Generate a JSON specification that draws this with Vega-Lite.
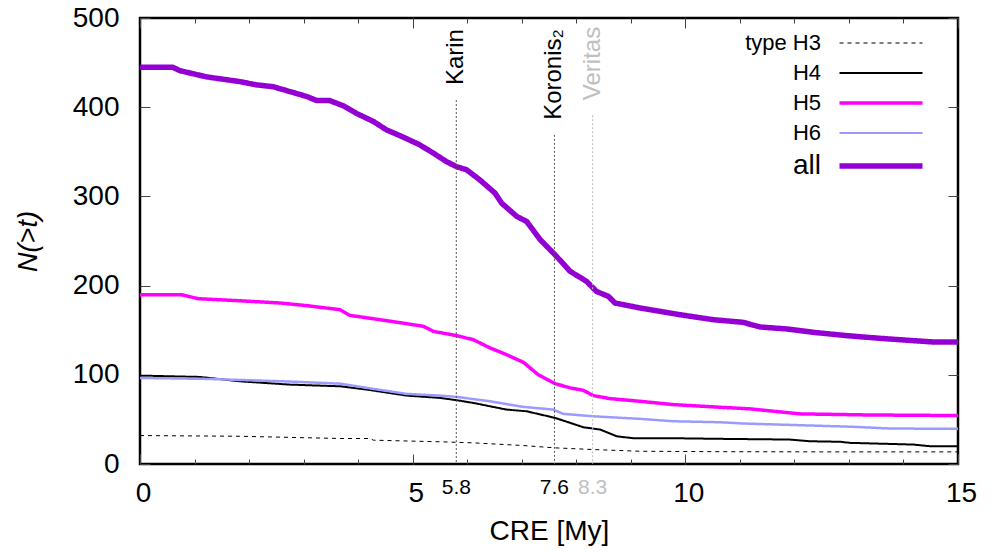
{
  "$schema": "https://vega.github.io/schema/vega-lite/v6.json",
  "width": 818,
  "height": 446,
  "autosize": {"type": "none"},
  "padding": {"left": 140, "top": 18, "right": 34, "bottom": 88},
  "background": "white",
  "config": {
    "view": {"stroke": "black", "strokeWidth": 2.5},
    "font": "Liberation Sans",
    "axis": {"grid": false, "domain": false, "tickColor": "#444", "tickWidth": 1, "labelFont": "Liberation Sans", "labelFontSize": 28, "labelColor": "black", "titleFont": "Liberation Sans", "titleFontWeight": "normal", "titleColor": "black"}
  },
  "datasets": {
    "curves": [
      {"series": "type H3", "x": 0, "y": 31.9}, {"series": "type H3", "x": 1.83, "y": 31.1}, {"series": "type H3", "x": 3.67, "y": 28.6}, {"series": "type H3", "x": 4.22, "y": 28.6}, {"series": "type H3", "x": 4.28, "y": 26.7}, {"series": "type H3", "x": 5.5, "y": 24.9}, {"series": "type H3", "x": 6.11, "y": 23.7}, {"series": "type H3", "x": 7.03, "y": 20.7}, {"series": "type H3", "x": 7.61, "y": 18.1}, {"series": "type H3", "x": 8.31, "y": 16.2}, {"series": "type H3", "x": 9.17, "y": 14.3}, {"series": "type H3", "x": 10.64, "y": 13.8}, {"series": "type H3", "x": 12.5, "y": 13.6}, {"series": "type H3", "x": 15, "y": 13.6},
      {"series": "H4", "x": 0, "y": 99.1}, {"series": "H4", "x": 1.1, "y": 97.6}, {"series": "H4", "x": 1.83, "y": 92.7}, {"series": "H4", "x": 2.75, "y": 89}, {"series": "H4", "x": 3.67, "y": 87.1}, {"series": "H4", "x": 4.16, "y": 83.4}, {"series": "H4", "x": 4.89, "y": 76.7}, {"series": "H4", "x": 5.5, "y": 74.1}, {"series": "H4", "x": 5.8, "y": 71.6}, {"series": "H4", "x": 6.11, "y": 68.5}, {"series": "H4", "x": 6.72, "y": 61}, {"series": "H4", "x": 7.09, "y": 59.1}, {"series": "H4", "x": 7.61, "y": 51.7}, {"series": "H4", "x": 7.89, "y": 46.1}, {"series": "H4", "x": 8.13, "y": 41.2}, {"series": "H4", "x": 8.44, "y": 38.6}, {"series": "H4", "x": 8.74, "y": 31.1}, {"series": "H4", "x": 9.04, "y": 28.9}, {"series": "H4", "x": 9.78, "y": 28.9}, {"series": "H4", "x": 10.64, "y": 28.2}, {"series": "H4", "x": 11.92, "y": 27.4}, {"series": "H4", "x": 12.29, "y": 25.5}, {"series": "H4", "x": 12.84, "y": 24.9}, {"series": "H4", "x": 13.02, "y": 23.7}, {"series": "H4", "x": 14.18, "y": 21.8}, {"series": "H4", "x": 14.49, "y": 19.9}, {"series": "H4", "x": 15, "y": 19.9},
      {"series": "H5", "x": 0, "y": 189.8}, {"series": "H5", "x": 0.76, "y": 189.8}, {"series": "H5", "x": 1.07, "y": 185.3}, {"series": "H5", "x": 1.83, "y": 183}, {"series": "H5", "x": 2.57, "y": 180.5}, {"series": "H5", "x": 3.06, "y": 177.5}, {"series": "H5", "x": 3.67, "y": 173}, {"series": "H5", "x": 3.85, "y": 166.6}, {"series": "H5", "x": 4.4, "y": 161.8}, {"series": "H5", "x": 4.89, "y": 157.3}, {"series": "H5", "x": 5.2, "y": 154.3}, {"series": "H5", "x": 5.38, "y": 148.7}, {"series": "H5", "x": 5.8, "y": 144}, {"series": "H5", "x": 6.11, "y": 139.4}, {"series": "H5", "x": 6.42, "y": 130.1}, {"series": "H5", "x": 6.72, "y": 122.6}, {"series": "H5", "x": 7.03, "y": 114}, {"series": "H5", "x": 7.3, "y": 100.2}, {"series": "H5", "x": 7.61, "y": 90.1}, {"series": "H5", "x": 7.89, "y": 85.3}, {"series": "H5", "x": 8.13, "y": 82.6}, {"series": "H5", "x": 8.31, "y": 76.7}, {"series": "H5", "x": 8.62, "y": 73.3}, {"series": "H5", "x": 9.17, "y": 70.3}, {"series": "H5", "x": 9.78, "y": 66.6}, {"series": "H5", "x": 10.64, "y": 63.6}, {"series": "H5", "x": 11.19, "y": 61.8}, {"series": "H5", "x": 12.1, "y": 56.2}, {"series": "H5", "x": 13.33, "y": 55}, {"series": "H5", "x": 15, "y": 54.3},
      {"series": "H6", "x": 0, "y": 96.5}, {"series": "H6", "x": 1.22, "y": 95.4}, {"series": "H6", "x": 2.63, "y": 92.7}, {"series": "H6", "x": 3.67, "y": 90.1}, {"series": "H6", "x": 4.28, "y": 84.2}, {"series": "H6", "x": 4.89, "y": 78.6}, {"series": "H6", "x": 5.5, "y": 76.7}, {"series": "H6", "x": 5.8, "y": 75.3}, {"series": "H6", "x": 6.42, "y": 70.3}, {"series": "H6", "x": 7.03, "y": 64}, {"series": "H6", "x": 7.58, "y": 61}, {"series": "H6", "x": 7.76, "y": 56.2}, {"series": "H6", "x": 8.31, "y": 53.5}, {"series": "H6", "x": 9.17, "y": 50.6}, {"series": "H6", "x": 9.78, "y": 47.9}, {"series": "H6", "x": 10.64, "y": 46.8}, {"series": "H6", "x": 11.06, "y": 45.4}, {"series": "H6", "x": 12.1, "y": 43.5}, {"series": "H6", "x": 13.08, "y": 41.7}, {"series": "H6", "x": 13.75, "y": 39.8}, {"series": "H6", "x": 15, "y": 39.4},
      {"series": "all", "x": 0, "y": 444.8}, {"series": "all", "x": 0.6, "y": 444.8}, {"series": "all", "x": 0.73, "y": 441}, {"series": "all", "x": 1.22, "y": 434}, {"series": "all", "x": 1.83, "y": 428.7}, {"series": "all", "x": 2.14, "y": 425}, {"series": "all", "x": 2.44, "y": 423}, {"series": "all", "x": 2.75, "y": 417.5}, {"series": "all", "x": 3.06, "y": 412}, {"series": "all", "x": 3.24, "y": 407.4}, {"series": "all", "x": 3.48, "y": 407.4}, {"series": "all", "x": 3.73, "y": 401.5}, {"series": "all", "x": 3.97, "y": 393}, {"series": "all", "x": 4.28, "y": 384}, {"series": "all", "x": 4.52, "y": 374.6}, {"series": "all", "x": 4.83, "y": 366.4}, {"series": "all", "x": 5.13, "y": 357.8}, {"series": "all", "x": 5.38, "y": 348.5}, {"series": "all", "x": 5.62, "y": 339}, {"series": "all", "x": 5.8, "y": 333.5}, {"series": "all", "x": 5.99, "y": 329.8}, {"series": "all", "x": 6.23, "y": 318.6}, {"series": "all", "x": 6.51, "y": 303.7}, {"series": "all", "x": 6.63, "y": 292.5}, {"series": "all", "x": 6.91, "y": 277.5}, {"series": "all", "x": 7.09, "y": 271.9}, {"series": "all", "x": 7.34, "y": 251.4}, {"series": "all", "x": 7.61, "y": 234.6}, {"series": "all", "x": 7.89, "y": 215.9}, {"series": "all", "x": 8.19, "y": 204.7}, {"series": "all", "x": 8.37, "y": 193.5}, {"series": "all", "x": 8.59, "y": 187.9}, {"series": "all", "x": 8.71, "y": 180.5}, {"series": "all", "x": 9.17, "y": 174.9}, {"series": "all", "x": 9.54, "y": 171.1}, {"series": "all", "x": 9.9, "y": 167.4}, {"series": "all", "x": 10.51, "y": 161.8}, {"series": "all", "x": 11.06, "y": 158.8}, {"series": "all", "x": 11.37, "y": 153.6}, {"series": "all", "x": 11.86, "y": 151.4}, {"series": "all", "x": 12.35, "y": 147.6}, {"series": "all", "x": 12.96, "y": 143.9}, {"series": "all", "x": 13.57, "y": 140.9}, {"series": "all", "x": 14.18, "y": 138.3}, {"series": "all", "x": 14.54, "y": 136.8}, {"series": "all", "x": 15, "y": 136.8}
    ],
    "events": [
      {"name": "Karin", "x": 5.8, "top": 408},
      {"name": "Koronis₂", "x": 7.6, "top": 369},
      {"name": "Veritas", "x": 8.3, "top": 391}
    ]
  },
  "layer": [
    {
      "data": {"name": "curves"},
      "mark": {"type": "line", "clip": true},
      "encoding": {
        "x": {"field": "x", "type": "quantitative", "scale": {"domain": [0, 15], "nice": false, "zero": false},
          "axis": {"orient": "bottom", "values": [0, 5, 10, 15], "tickSize": -10, "labelPadding": 25, "labelFlush": false, "labelOffset": 3, "title": "CRE [My]", "titleFontSize": 28, "titleX": 409, "titleY": 67, "titleBaseline": "middle"}},
        "y": {"field": "y", "type": "quantitative", "scale": {"domain": [0, 500], "nice": false},
          "axis": {"orient": "left", "values": [0, 100, 200, 300, 400, 500], "tickSize": -10, "labelPadding": 31, "title": "N(>t)", "titleFontSize": 27, "titleFontStyle": "italic", "titleX": -112, "titleY": 223, "titleBaseline": "middle", "titleAlign": "center", "titleAngle": 270}},
        "color": {"field": "series", "type": "nominal",
          "scale": {"domain": ["type H3", "H4", "H5", "H6", "all"], "range": ["#000000", "#000000", "#ff00ff", "#9a9aff", "#9400d3"]},
          "legend": {"orient": "none", "legendX": 730, "legendY": 14, "title": null, "symbolType": "M-8.3,0H8.3", "symbolSize": 100, "labelAlign": "right", "labelOffset": -71, "labelFont": "Liberation Sans", "labelFontSize": 22, "labelColor": "black", "rowPadding": 8, "padding": 0,
            "encode": {
              "symbols": {"update": {"strokeWidth": {"signal": "datum.value === 'all' ? 5.5 : datum.value === 'H5' ? 3.5 : datum.value === 'type H3' ? 1 : 2"}, "strokeDash": {"signal": "datum.value === 'type H3' ? [4, 4] : []"}}},
              "labels": {"update": {"fontSize": {"signal": "datum.value === 'all' ? 28 : 22"}}}
            }}},
        "strokeDash": {"field": "series", "type": "nominal", "scale": {"domain": ["type H3", "H4", "H5", "H6", "all"], "range": [[4, 4], [1, 0], [1, 0], [1, 0], [1, 0]]}, "legend": null},
        "strokeWidth": {"condition": [{"test": "datum.series === 'all'", "value": 5.5}, {"test": "datum.series === 'H5'", "value": 3.5}, {"test": "datum.series === 'H6'", "value": 2.5}, {"test": "datum.series === 'H4'", "value": 2}], "value": 1}
      }
    },
    {
      "data": {"name": "events"},
      "mark": {"type": "rule", "strokeDash": [2, 2], "strokeWidth": 1},
      "encoding": {
        "x": {"field": "x", "type": "quantitative", "axis": {"orient": "bottom", "values": [0,1,2,3,4,5,6,7,8,9,10,11,12,13,14,15], "tickSize": -5, "labels": false, "title": null}},
        "y": {"field": "top", "type": "quantitative", "axis": {"orient": "right", "values": [0, 100, 200, 300, 400, 500], "tickSize": -10, "labels": false, "title": null}},
        "y2": {"datum": 0},
        "stroke": {"field": "name", "type": "nominal", "scale": {"domain": ["Karin", "Koronis₂", "Veritas"], "range": ["#555555", "#555555", "#bbbbbb"]}, "legend": null}
      }
    },
    {
      "data": {"name": "events"},
      "mark": {"type": "text", "angle": 270, "align": "left", "baseline": "middle", "dx": 15, "fontSize": 24, "font": "Liberation Sans"},
      "encoding": {
        "x": {"field": "x", "type": "quantitative", "axis": {"orient": "top", "values": [0, 5, 10, 15], "tickSize": -10, "labels": false, "title": null}},
        "y": {"field": "top", "type": "quantitative", "axis": null},
        "text": {"field": "name"},
        "fill": {"field": "name", "type": "nominal", "scale": {"domain": ["Karin", "Koronis₂", "Veritas"], "range": ["#000000", "#000000", "#c0c0c0"]}, "legend": null}
      }
    },
    {
      "data": {"name": "events"},
      "mark": {"type": "text", "align": "center", "baseline": "middle", "dy": 24, "fontSize": 21, "font": "Liberation Sans"},
      "encoding": {
        "x": {"field": "x", "type": "quantitative", "axis": {"orient": "top", "values": [0,1,2,3,4,5,6,7,8,9,10,11,12,13,14,15], "tickSize": -5, "labels": false, "title": null}},
        "y": {"datum": 0, "axis": null},
        "text": {"field": "x", "type": "quantitative", "format": ".1f"},
        "fill": {"field": "name", "type": "nominal", "legend": null}
      }
    }
  ],
  "resolve": {"axis": {"x": "independent", "y": "independent"}}
}
